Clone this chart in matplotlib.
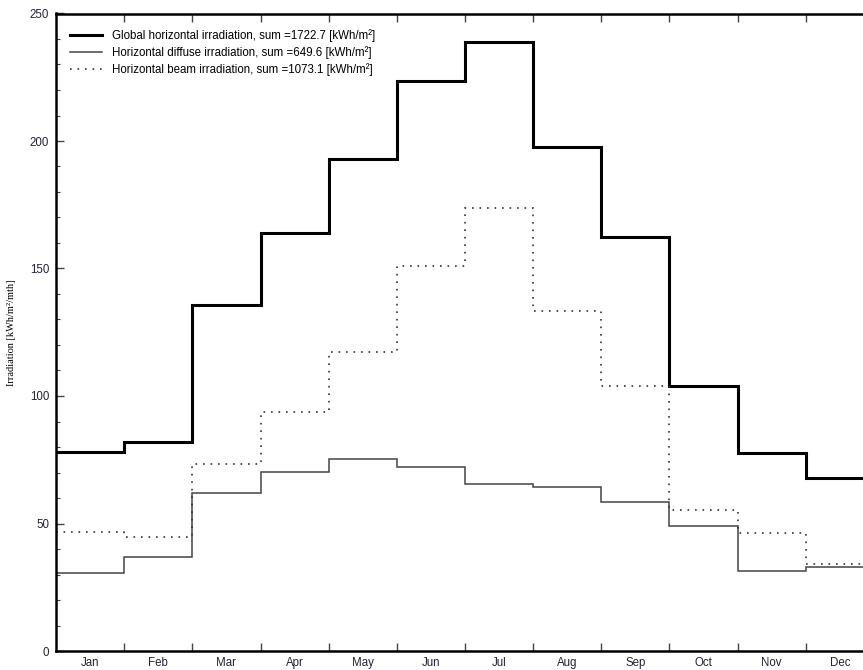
import numpy as np
import matplotlib
matplotlib.use("Agg")
import matplotlib.pyplot as plt
from matplotlib.ticker import MultipleLocator, FixedLocator, NullFormatter, FixedFormatter

# valores mensuales [kWh/m2]
meses = ['Jan', 'Feb', 'Mar', 'Apr', 'May', 'Jun', 'Jul', 'Aug', 'Sep', 'Oct', 'Nov', 'Dec']
global_h = [78.0, 82.0, 135.7, 163.8, 192.8, 223.5, 238.9, 197.6, 162.5, 104.0, 77.6, 67.7]
difusa_h = [30.7, 37.0, 61.8, 70.2, 75.4, 72.3, 65.5, 64.4, 58.5, 49.0, 31.4, 33.1]
directa_h = [46.8, 44.6, 73.2, 93.8, 117.1, 151.0, 173.6, 133.3, 104.0, 55.2, 46.3, 34.1]

etiquetas = ['Global horizontal irradiation, sum =1722.7 [kWh/m\u00b2]',
             'Horizontal diffuse irradiation, sum =649.6 [kWh/m\u00b2]',
             'Horizontal beam irradiation, sum =1073.1 [kWh/m\u00b2]']

plt.rcParams['font.family'] = ['Liberation Sans', 'DejaVu Sans']

fig = plt.figure(figsize=(8.63, 6.70), dpi=100)
# el eje se sale por la derecha (la imagen original esta recortada)
ax = fig.add_axes([56 / 863, 19 / 670, 818 / 863, 637.5 / 670])

bordes = np.arange(len(meses) + 1)
ax.stairs(global_h, bordes, baseline=None, color='black', linewidth=2.2, label=etiquetas[0])
ax.stairs(difusa_h, bordes, baseline=None, color='#444444', linewidth=1.1, label=etiquetas[1])
ax.stairs(directa_h, bordes, baseline=None, color='#333333', linewidth=1.2,
          linestyle=(0, (1, 3.5)), label=etiquetas[2])

ax.set_xlim(0, 12)
ax.set_ylim(0, 250)

# ticks del eje x: marcas en los limites de mes, nombres en el centro
ax.xaxis.set_major_locator(FixedLocator(np.arange(1, 12)))
ax.xaxis.set_major_formatter(NullFormatter())
ax.xaxis.set_minor_locator(FixedLocator(np.arange(12) + 0.5))
ax.xaxis.set_minor_formatter(FixedFormatter(meses))
ax.tick_params(axis='x', which='major', direction='in', length=6, width=1.0,
               color='#444444', top=True, bottom=True)
ax.tick_params(axis='x', which='minor', length=0, pad=4, labelsize=8.3, labelcolor='#222233')

ax.yaxis.set_major_locator(MultipleLocator(50))
ax.yaxis.set_minor_locator(MultipleLocator(10))
ax.tick_params(axis='y', which='major', direction='in', length=6, width=1.0,
               color='#444444', labelsize=8.3, labelcolor='#222233', pad=5)
ax.tick_params(axis='y', which='minor', direction='in', length=3, width=0.8, color='#444444')

for s in ax.spines.values():
    s.set_linewidth(1.8)
    s.set_color('black')

ax.set_ylabel('Irradiation [kWh/m\u00b2/mth]', family=['Liberation Serif', 'DejaVu Serif'],
              fontsize=7.5)
ax.yaxis.set_label_coords(-0.049, 0.5)

ax.legend(loc='upper left', bbox_to_anchor=(0.0171, 0.976), frameon=False, fontsize=8.3,
          borderaxespad=0, borderpad=0, handlelength=2.8, handletextpad=0.87,
          labelspacing=0.38)

fig.savefig('out.png', dpi=100)
